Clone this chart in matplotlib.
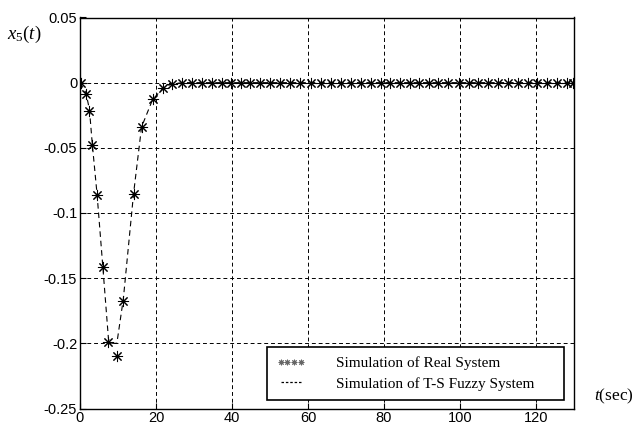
import matplotlib
matplotlib.use("Agg")
import matplotlib.pyplot as plt
from matplotlib.lines import Line2D

plt.rcParams["mathtext.fontset"] = "custom"
plt.rcParams["mathtext.rm"] = "Liberation Serif"
plt.rcParams["mathtext.it"] = "Liberation Serif:italic"

# Simulation of real system (asterisk markers)
real_t = [0.26, 1.6, 2.45, 3.16, 4.47, 5.97, 7.45, 9.65, 11.4, 14.1, 16.2, 19.1, 21.9,
          24.1, 26.9, 29.6, 32.0, 34.7, 37.3, 39.7, 42.3, 44.7, 47.4, 50.0, 52.6,
          55.3, 57.9, 60.7, 63.3, 66.0, 68.6, 71.2, 73.9, 76.5, 79.1, 81.6, 84.2,
          86.8, 89.3, 91.9, 94.3, 96.8, 99.7, 102.4, 104.8, 107.4, 110.1, 112.7,
          115.3, 117.9, 120.2, 122.8, 125.4, 128.1, 129.7]
real_x5 = [-0.0005, -0.0085, -0.022, -0.0475, -0.0862, -0.1418, -0.1988, -0.2095,
           -0.1672, -0.0854, -0.0342, -0.0128, -0.0038, -0.0008] + [0.0] * 41

# Simulation of T-S fuzzy system (dashed line)
fuzzy_t = [0, 1.6, 2.5, 3.2, 4.5, 6.0, 7.5, 8.6, 9.7, 11.4, 14.1, 16.2, 19.1, 21.9,
           24.1, 27.0, 130]
fuzzy_x5 = [0, -0.008, -0.021, -0.046, -0.086, -0.141, -0.197, -0.2, -0.2, -0.166,
            -0.085, -0.034, -0.013, -0.004, -0.001, 0, 0]

xticks = [0, 20, 40, 60, 80, 100, 120]
yticks = [0.05, 0, -0.05, -0.1, -0.15, -0.2, -0.25]
ytick_labels = ["0.05", "0", "-0.05", "-0.1", "-0.15", "-0.2", "-0.25"]

fig = plt.figure(figsize=(6.35, 4.26), dpi=100)
ax = fig.add_axes([80 / 635, 17.5 / 426, 494 / 635, 391 / 426])

ax.plot(fuzzy_t, fuzzy_x5, color="black", lw=0.8, linestyle=(0, (5, 3.5)))
ax.plot(real_t, real_x5, linestyle="none", marker=(8, 2, 0), markersize=8,
        markeredgewidth=0.75, color="black")

ax.set_xlim(0, 130)
ax.set_ylim(-0.25, 0.05)
ax.set_xticks(xticks)
ax.set_yticks(yticks)
ax.set_yticklabels(ytick_labels)
ax.tick_params(direction="in", length=4, labelsize=10.5, pad=2)
for lab in ax.get_xticklabels() + ax.get_yticklabels():
    lab.set_family("Liberation Sans")
for sp in ax.spines.values():
    sp.set_linewidth(1.0)

ax.grid(True, color="black", lw=0.7, linestyle=(0, (4, 3)))

fig.text(7 / 635, 1 - 34 / 426, r"$x_5(t)$", fontsize=13.5, va="center", ha="left")
fig.text(594 / 635, 1 - 396 / 426, r"$t$(sec)", family="Liberation Serif",
         fontsize=12.5, va="center", ha="left")

h_real = Line2D([], [], linestyle="none", marker=(8, 2, 0), markersize=4,
                markeredgewidth=0.7, color="0.4")
h_fuzzy = Line2D([], [], color="black", lw=0.9, linestyle=(0, (2, 1.5)))
leg = ax.legend([h_real, h_fuzzy],
                ["Simulation of Real System", "Simulation of T-S Fuzzy System"],
                loc="lower left", bbox_to_anchor=(0.3785, 0.0218, 0.6015, 0.135),
                mode="expand", borderaxespad=0, numpoints=4, handlelength=1.9,
                handletextpad=2.0, borderpad=0.6, labelspacing=0.45,
                fancybox=False, framealpha=1,
                prop={"family": "Liberation Serif", "size": 11})
leg.get_frame().set_edgecolor("black")
leg.get_frame().set_linewidth(1.2)

fig.savefig("out.png", dpi=100)
